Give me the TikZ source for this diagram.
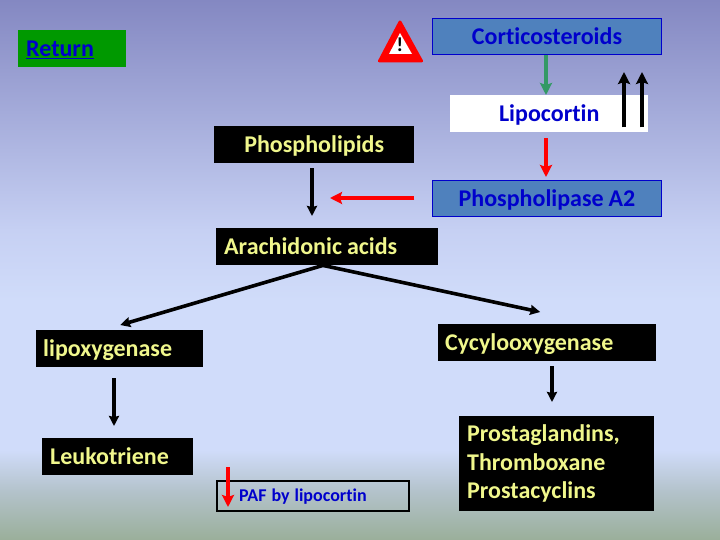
\documentclass[tikz,border=0pt]{standalone}
\usepackage{fontspec}
\setmainfont[Ligatures=NoCommon]{Carlito}
\usetikzlibrary{arrows.meta,calc}
\definecolor{bgA}{HTML}{8488C2}
\definecolor{bgB}{HTML}{C6D0F3}
\definecolor{bgC}{HTML}{D0DCFA}
\definecolor{bgD}{HTML}{B4C3CC}
\definecolor{bgE}{HTML}{9AAF9A}
\definecolor{paleyellow}{HTML}{F0F78C}
\definecolor{linkblue}{HTML}{0000CC}
\definecolor{steel}{HTML}{4F81BD}
\definecolor{arrowgreen}{HTML}{339966}
\definecolor{retgreen}{HTML}{009900}
\tikzset{
  x=1pt,y=-1pt,
  base/.style={anchor=north west,inner xsep=0pt,inner ysep=0pt,font=\fontsize{24}{28.5}\selectfont\bfseries,minimum height=#1},
  oneline/.style={text height=15pt,text depth=0pt},
  blackbox/.style={base=37pt,oneline,fill=black,text=paleyellow,align=left},
  bluebox/.style={base=36pt,text height=17pt,text depth=0pt,fill=steel,draw=linkblue,line width=1pt,text=linkblue,align=center,text width=229pt,minimum width=229pt},
  bigarrow/.style={line width=3.6pt,-{Stealth[length=12pt,width=12pt,inset=2pt]}},
  blackarrow/.style={bigarrow,draw=black},
  redarrow/.style={bigarrow,draw=red},
  greenarrow/.style={bigarrow,draw=arrowgreen},
  thinarrow/.style={line width=3.6pt,-{Stealth[length=10pt,width=10pt,inset=1pt]},draw=black},
}
\begin{document}
\begin{tikzpicture}
\useasboundingbox (0,0) rectangle (720,540);
% background
\fill[top color=bgA,bottom color=bgB,draw=none] (0,0) rectangle (720,230.5);
\fill[top color=bgB,bottom color=bgC,draw=none] (0,230) rectangle (720,300.5);
\fill[bgC] (0,300) rectangle (720,450.5);
\fill[top color=bgC,bottom color=bgD,draw=none] (0,450) rectangle (720,490.5);
\fill[top color=bgD,bottom color=bgE,draw=none] (0,490) rectangle (720,540);
% x guides
\coordinate (xA) at (312,0);
\coordinate (xB) at (546,0);
\coordinate (xC) at (114,0);
\coordinate (xD) at (552,0);
\coordinate (xE) at (624,0);
\coordinate (xF) at (642,0);
\coordinate (xG) at (228,0);
\coordinate (redend) at (330,198);
% return
\node[base=37pt,oneline,fill=retgreen,text=linkblue,align=left,text width=108pt,minimum width=108pt] (ret) at (18,30) {\hspace*{8pt}\underline{Return}};
% warning sign
\fill[red,draw=red,line width=3pt,line join=round] (400,22) -- (421.5,61) -- (379.5,61) -- cycle;
\fill[white] (400,33) -- (412,54) -- (389,54) -- cycle;
\node[font=\fontsize{20}{20}\selectfont\bfseries,text=black,inner sep=0pt] (warn) at (400,45) {!};
% blue
\node[bluebox] (cort) at (432,18) {Corticosteroids};
\node[base=37pt,text height=16pt,text depth=0pt,fill=white,text=linkblue,align=center,text width=198pt,minimum width=198pt] (lipo) at (450,95) {Lipocortin};
\node[bluebox] (pla) at (432,180) {Phospholipase\hspace{5pt}A2};
% black
\node[blackbox,text width=200pt,minimum width=200pt,align=center] (phos) at (214,126) {Phospholipids};
\node[blackbox,text width=222pt,minimum width=222pt] (arach) at (216,228) {\hspace*{8pt}Arachidonic\hspace{5pt}acids};
\node[blackbox,text width=167pt,minimum width=167pt] (lox) at (36,330) {\hspace*{7pt}lipoxygenase};
\node[blackbox,text width=218pt,minimum width=218pt] (cox) at (438,324) {\hspace*{7pt}Cycylooxygenase};
\node[blackbox,text width=151pt,minimum width=151pt] (leuk) at (42,438) {\hspace*{8pt}Leukotriene};
\node[base=95pt,fill=black,text=paleyellow,align=left,text width=195pt,minimum width=195pt] (pros) at (459,416) {\hspace*{8pt}Prostaglandins,\\\hspace*{8pt}Thromboxane\\\hspace*{8pt}Prostacyclins};
\node[base=30pt,text height=11pt,text depth=0pt,draw=black,line width=2pt,text=linkblue,font=\fontsize{18}{20}\selectfont\bfseries,align=left,text width=192pt,minimum width=192pt] (paf) at (216,480) {\hspace*{22pt}PAF\hspace{5pt}by\hspace{5pt}lipocortin};
% connectors
\draw[greenarrow] (xB |- cort.south) -- (xB |- lipo.north);
\draw[redarrow,shorten <=6pt,shorten >=3pt] (xB |- lipo.south) -- (xB |- pla.north);
\draw[blackarrow] ($(xE |- lipo.south)+(0,-5)$) -- ($(xE |- lipo.north)+(0,-23)$);
\draw[blackarrow] ($(xF |- lipo.south)+(0,-5)$) -- ($(xF |- lipo.north)+(0,-23)$);
\draw[thinarrow,shorten <=5pt,shorten >=12pt] (xA |- phos.south) -- (xA |- arach.north);
\draw[redarrow] (phos.east |- redend) -- (redend);
\draw[thinarrow] ($(arach.south west)+(107,0)$) -- ($(lox.north)+(0.5,-5)$);
\draw[thinarrow] ($(arach.south west)+(107,0)$) -- ($(cox.north)+(-7,-12)$);
\draw[thinarrow,shorten <=11pt,shorten >=12pt] (xC |- lox.south) -- (xC |- leuk.north);
\draw[thinarrow,shorten <=5pt,shorten >=14pt] (xD |- cox.south) -- (xD |- pros.north);
\draw[redarrow,shorten <=-13pt,shorten >=5pt] (xG |- paf.north) -- (xG |- paf.south);
\end{tikzpicture}
\end{document}
